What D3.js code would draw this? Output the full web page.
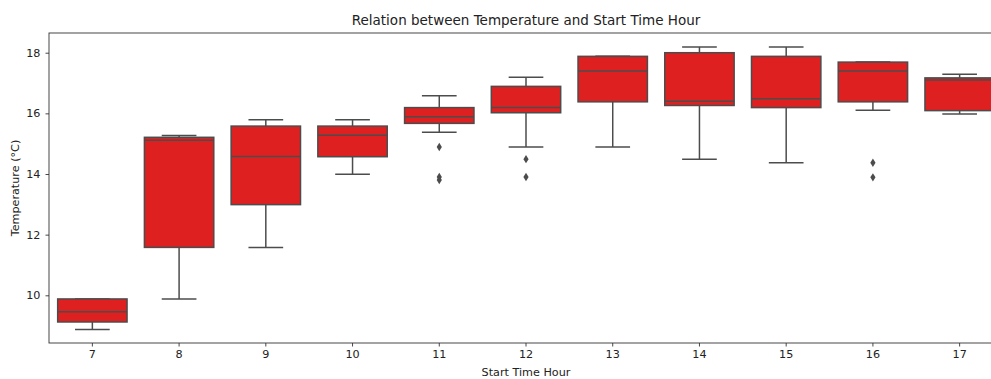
<!DOCTYPE html>
<html>
<head>
<meta charset="utf-8">
<script src="https://cdn.jsdelivr.net/npm/d3@7"></script>
<style>
  html, body { margin: 0; padding: 0; background: #fff; overflow: hidden; }
  svg { display: block; font-family: "DejaVu Sans", sans-serif; }
</style>
</head>
<body>
<svg id="chart" width="991" height="379"></svg>
<script>
// Start hour of each trip and the temperature distribution for that hour
const hours = [7, 8, 9, 10, 11, 12, 13, 14, 15, 16, 17];
const q1 = [9.12, 11.58, 12.99, 14.57, 15.67, 16.02, 16.38, 16.26, 16.19, 16.38, 16.09];
const medians = [9.46, 15.11, 14.58, 15.28, 15.89, 16.19, 17.40, 16.40, 16.48, 17.40, 17.10];
const q3 = [9.88, 15.21, 15.58, 15.58, 16.19, 16.89, 17.88, 18.00, 17.88, 17.69, 17.17];
const whiskerLow = [8.87, 9.88, 11.58, 13.99, 15.38, 14.89, 14.89, 14.49, 14.37, 16.10, 15.98];
const whiskerHigh = [9.88, 15.27, 15.79, 15.79, 16.58, 17.19, 17.88, 18.19, 18.19, 17.69, 17.29];
const outliers = [[], [], [], [], [14.89, 13.9, 13.8], [14.49, 13.9], [], [], [], [14.37, 13.89], []];
const yTicks = [10, 12, 14, 16, 18];

const titleText = "Relation between Temperature and Start Time Hour";
const xLabel = "Start Time Hour";
const yLabel = "Temperature (°C)";

const boxFill = "#df2020";
const lineGray = "#4c4c4c";
const spine = "#333";

const plot = { left: 49, right: 1003, top: 33, bottom: 343 };

const svg = d3.select("#chart");

const x = d3.scaleBand()
  .domain(hours)
  .range([plot.left, plot.right])
  .paddingInner(0).paddingOuter(0);

const y = d3.scaleLinear()
  .domain([8.427, 18.65])
  .range([plot.bottom, plot.top]);

const bw = x.bandwidth() * 0.8;
const capW = bw * 0.5;

const rows = hours.map((h, i) => ({
  h, q1: q1[i], med: medians[i], q3: q3[i],
  lo: whiskerLow[i], hi: whiskerHigh[i], out: outliers[i]
}));

const g = svg.append("g");

const box = g.selectAll("g.box").data(rows).join("g")
  .attr("class", "box")
  .attr("transform", d => `translate(${x(d.h) + x.bandwidth() / 2},0)`);

// whiskers
box.append("line")
  .attr("x1", 0).attr("x2", 0)
  .attr("y1", d => y(d.q1)).attr("y2", d => y(d.lo))
  .attr("stroke", lineGray).attr("stroke-width", 1.5);
box.append("line")
  .attr("x1", 0).attr("x2", 0)
  .attr("y1", d => y(d.q3)).attr("y2", d => y(d.hi))
  .attr("stroke", lineGray).attr("stroke-width", 1.5);
// caps
box.append("line")
  .attr("x1", -capW / 2).attr("x2", capW / 2)
  .attr("y1", d => y(d.lo)).attr("y2", d => y(d.lo))
  .attr("stroke", lineGray).attr("stroke-width", 1.5);
box.append("line")
  .attr("x1", -capW / 2).attr("x2", capW / 2)
  .attr("y1", d => y(d.hi)).attr("y2", d => y(d.hi))
  .attr("stroke", lineGray).attr("stroke-width", 1.5);
// box body
box.append("rect")
  .attr("x", -bw / 2).attr("width", bw)
  .attr("y", d => y(d.q3))
  .attr("height", d => y(d.q1) - y(d.q3))
  .attr("fill", boxFill)
  .attr("stroke", lineGray).attr("stroke-width", 1.5);
// median
box.append("line")
  .attr("x1", -bw / 2).attr("x2", bw / 2)
  .attr("y1", d => y(d.med)).attr("y2", d => y(d.med))
  .attr("stroke", lineGray).attr("stroke-width", 1.5);
// outliers drawn as thin diamonds
box.selectAll("path.flier").data(d => d.out).join("path")
  .attr("class", "flier")
  .attr("d", v => {
    const cy = y(v), w = 2.6, h = 4.2;
    return `M0,${cy - h}L${w},${cy}L0,${cy + h}L${-w},${cy}Z`;
  })
  .attr("fill", lineGray);

// axes
const xAxis = d3.axisBottom(x).tickSize(3.5).tickPadding(4);
const yAxis = d3.axisLeft(y).tickValues(yTicks).tickSize(3.5).tickPadding(5);

const gx = svg.append("g")
  .attr("transform", `translate(0,${plot.bottom})`)
  .call(xAxis);
const gy = svg.append("g")
  .attr("transform", `translate(${plot.left},0)`)
  .call(yAxis);

[gx, gy].forEach(a => {
  a.select(".domain").remove();
  a.selectAll(".tick line").attr("stroke", spine).attr("stroke-width", 0.9);
  a.selectAll(".tick text")
    .attr("fill", "#222")
    .style("font-size", "11.2px")
    .style("font-family", "DejaVu Sans, sans-serif");
});

// frame
svg.append("rect")
  .attr("x", plot.left).attr("y", plot.top)
  .attr("width", plot.right - plot.left)
  .attr("height", plot.bottom - plot.top)
  .attr("fill", "none")
  .attr("stroke", spine).attr("stroke-width", 0.9);

// title and axis labels
svg.append("text")
  .attr("x", (plot.left + plot.right) / 2).attr("y", 25)
  .attr("text-anchor", "middle")
  .attr("fill", "#222")
  .style("font-size", "13.5px")
  .text(titleText);

svg.append("text")
  .attr("x", (plot.left + plot.right) / 2).attr("y", 376)
  .attr("text-anchor", "middle")
  .attr("fill", "#222")
  .style("font-size", "11.2px")
  .text(xLabel);

svg.append("text")
  .attr("transform", `translate(19,${(plot.top + plot.bottom) / 2}) rotate(-90)`)
  .attr("text-anchor", "middle")
  .attr("fill", "#222")
  .style("font-size", "11.2px")
  .text(yLabel);
</script>
</body>
</html>
